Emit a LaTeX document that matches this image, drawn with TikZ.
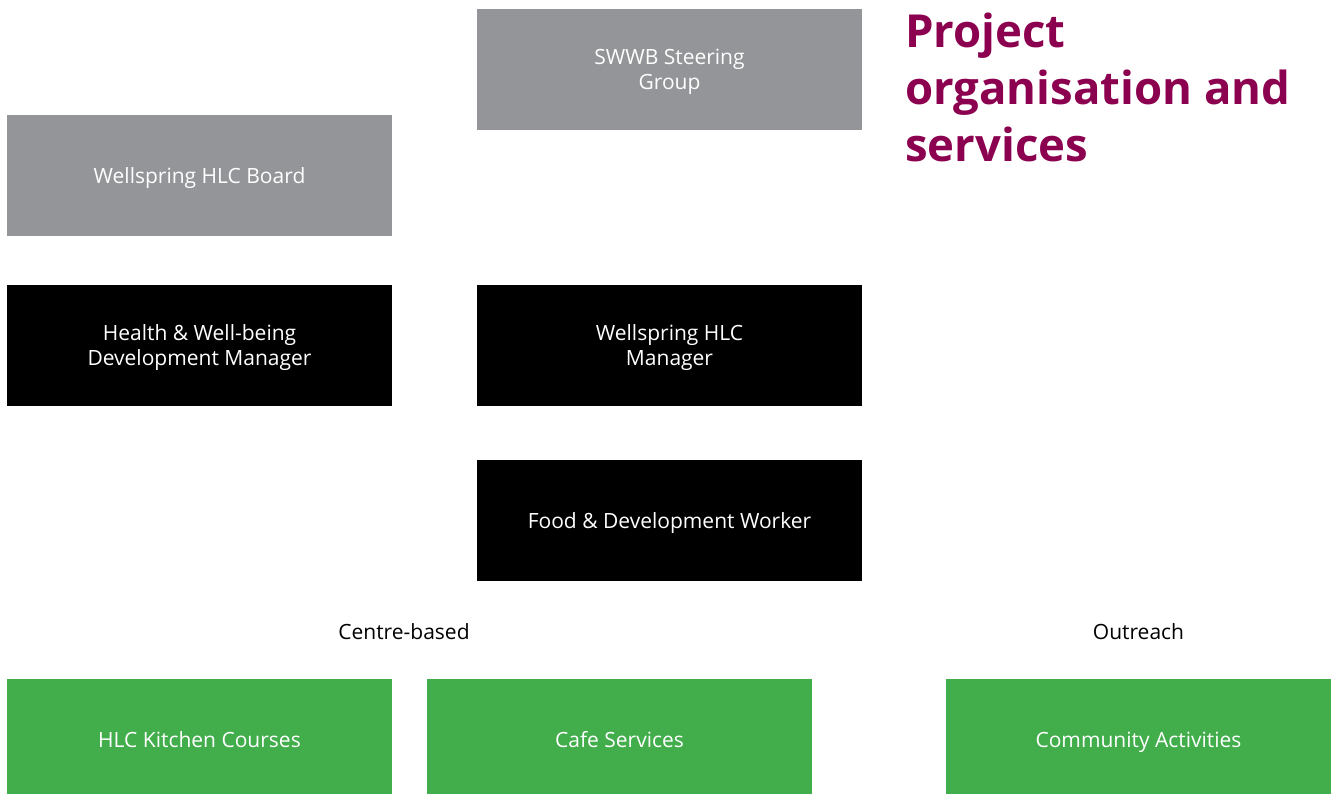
\documentclass[tikz,border=0pt]{standalone}
\usepackage{fontspec}
\setmainfont{Open Sans}
\usetikzlibrary{positioning}
\definecolor{swwbGrey}{HTML}{949598}
\definecolor{swwbGreen}{HTML}{41AD4B}
\definecolor{swwbPlum}{HTML}{8C0050}
\tikzset{
	orgbox/.style={
		rectangle,
		align=center,
		minimum width=385pt,
		minimum height=121pt,
		inner sep=0pt,
		outer sep=0pt,
		text depth=0pt,
		text=white,
		font=\fontsize{21}{25}\selectfont
	},
	orgGovern/.style={orgbox, fill=swwbGrey},
	orgStaff/.style={orgbox, fill=black},
	orgService/.style={orgbox, fill=swwbGreen},
	orgLabel/.style={inner sep=0pt, font=\fontsize{21}{25}\selectfont},
	orgTitle/.style={
		align=left,
		inner sep=0pt,
		text=swwbPlum,
		font=\fontsize{45.5}{57}\selectfont\bfseries
	}
}
\begin{document}
\begin{tikzpicture}[x=1pt, y=-1pt, node distance=49pt and 35pt]

			\useasboundingbox (0,0) rectangle (1341,793);

			% Governance
			\node[orgGovern] (steering) at (669.5,69.5) {SWWB Steering\\Group};
			\node[orgGovern] (board) at (199.5,175.5) {Wellspring HLC Board};

			% Staff
			\node[orgStaff, below=of board] (hwbManager)
			{Health \& Well-being\\Development Manager};
			\node[orgStaff, right=85pt of hwbManager] (hlcManager)
			{Wellspring HLC\\Manager};
			\node[orgStaff, below=54pt of hlcManager] (worker)
			{Food \& Development Worker};

			% Services (run off the bottom edge)
			\node[orgService] (kitchen) at (199.5,739.5) {HLC Kitchen Courses};
			\node[orgService, right=of kitchen] (cafe) {Cafe Services};
			\node[orgService] (community) at (1138.5,739.5) {Community Activities};

			\node[orgLabel] (centre) at (404,632) {Centre-based};
			\node[orgLabel] (outreach) at (1138.5,632) {Outreach};

			% Title
			\node[orgTitle, anchor=north west] (title) at (905,13)
			{Project\\organisation and\\services};

		\end{tikzpicture}
\end{document}
